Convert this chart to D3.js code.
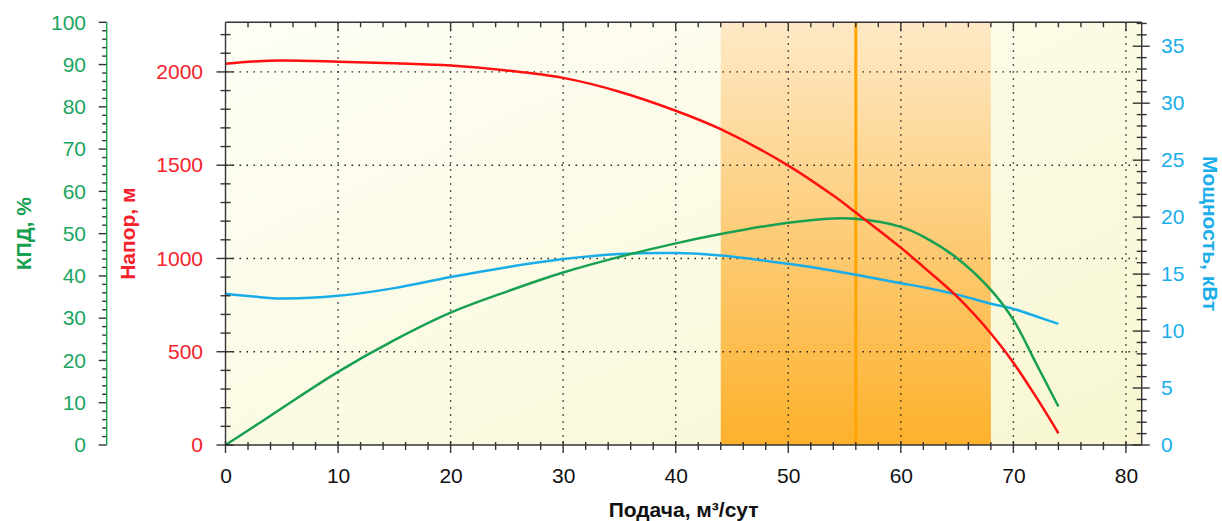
<!DOCTYPE html>
<html><head><meta charset="utf-8">
<script src="https://cdn.jsdelivr.net/npm/d3@7"></script>
<style>
html,body{margin:0;padding:0;background:#fff;}
svg{display:block;font-family:"Liberation Sans",Arial,sans-serif;}
</style></head>
<body>
<svg id="chart" width="1222" height="521"></svg>
<script>
// ---- data ----
const flow  = [0, 2.5, 5, 10, 15, 20, 25, 30, 35, 40, 44, 50, 54, 56, 60, 62, 65, 68, 70, 72, 74];
const head  = [2044, 2056, 2061, 2055, 2046, 2034, 2008, 1968, 1894, 1792, 1693, 1498, 1337, 1246, 1058, 955, 795, 598, 441, 259, 63];
const kpd   = [0, 4.3, 8.7, 17.3, 24.8, 31.3, 36.3, 40.8, 44.5, 47.7, 49.9, 52.6, 53.6, 53.5, 51.6, 49.3, 44.2, 36.7, 29.6, 19.4, 9.1];
const power = [13.27, 13.03, 12.86, 13.09, 13.77, 14.74, 15.61, 16.32, 16.76, 16.85, 16.64, 15.9, 15.3, 14.94, 14.2, 13.85, 13.2, 12.4, 11.95, 11.3, 10.63];
const workRange = [44, 68];
const nominal = 56;
const xTicks = [0, 10, 20, 30, 40, 50, 60, 70, 80];
const headTicks = [0, 500, 1000, 1500, 2000];
const kpdTicks = [0, 10, 20, 30, 40, 50, 60, 70, 80, 90, 100];
const powerTicks = [0, 5, 10, 15, 20, 25, 30, 35];
const xTitle = "Подача, м³/сут";
const headTitle = "Напор, м";
const kpdTitle = "КПД, %";
const powerTitle = "Мощность, кВт";

// ---- layout ----
const L = 225.5, R = 1141.7, T = 22.3, B = 445;
const C = {red:"#ff1010", green:"#17a050", blue:"#18ade8",
           redT:"#f5222d", greenT:"#1aa55f", blueT:"#1aaeea", axis:"#333"};
const FS = "21px";

const svg = d3.select("#chart");
const x = d3.scaleLinear().domain([0, 81.4]).range([L, R]);
const yH = d3.scaleLinear().domain([0, 2266]).range([B, T]);
const yK = d3.scaleLinear().domain([0, 100]).range([B, T]);
const yP = d3.scaleLinear().domain([0, 37.1]).range([B, T]);

const defs = svg.append("defs");
const bg = defs.append("linearGradient").attr("id","bg").attr("x1","0").attr("y1","0").attr("x2","1").attr("y2","1");
bg.append("stop").attr("offset","0").attr("stop-color","#fefef6");
bg.append("stop").attr("offset","1").attr("stop-color","#f8f7d2");
const band = defs.append("linearGradient").attr("id","band").attr("x1","0").attr("y1","0").attr("x2","0").attr("y2","1");
band.append("stop").attr("offset","0").attr("stop-color","#fee9c6");
band.append("stop").attr("offset","0.5").attr("stop-color","#fdcc78");
band.append("stop").attr("offset","1").attr("stop-color","#fdb12c");

svg.append("rect").attr("x",L).attr("y",T).attr("width",R-L).attr("height",B-T).attr("fill","url(#bg)");
svg.append("rect").attr("x",x(workRange[0])).attr("y",T).attr("width",x(workRange[1])-x(workRange[0])).attr("height",B-T).attr("fill","url(#band)");

// grid
const grid = svg.append("g").attr("stroke","#222").attr("stroke-width",1.4).attr("stroke-dasharray","1.5,5.5");
grid.selectAll(".vg").data(xTicks.filter(d=>d>0)).join("line")
  .attr("x1",d=>x(d)).attr("x2",d=>x(d)).attr("y1",T).attr("y2",B);
grid.selectAll(".hg").data(headTicks.filter(d=>d>0)).join("line")
  .attr("x1",L).attr("x2",R).attr("y1",d=>yH(d)).attr("y2",d=>yH(d));

// nominal line
svg.append("line").attr("x1",x(nominal)).attr("x2",x(nominal)).attr("y1",T).attr("y2",B)
  .attr("stroke","#ffa500").attr("stroke-width",3);

// curves
const pts = (arr)=>flow.map((f,i)=>[f,arr[i]]);
const mk = (ys)=>d3.line().x(d=>x(d[0])).y(d=>ys(d[1])).curve(d3.curveCatmullRom.alpha(0.5));
svg.append("path").attr("d",mk(yP)(pts(power))).attr("fill","none").attr("stroke",C.blue).attr("stroke-width",2.5);
svg.append("path").attr("d",mk(yK)(pts(kpd))).attr("fill","none").attr("stroke",C.green).attr("stroke-width",2.5);
svg.append("path").attr("d",mk(yH)(pts(head))).attr("fill","none").attr("stroke",C.red).attr("stroke-width",2.5);

// ---- axes ----
function tickLines(g, vals, fn){
  g.selectAll(null).data(vals).join("line").each(function(d){ const a=fn(d); d3.select(this).attr("x1",a[0]).attr("y1",a[1]).attr("x2",a[2]).attr("y2",a[3]); });
}
const tk = svg.append("g").attr("stroke",C.axis).attr("stroke-width",1.4);
tk.append("line").attr("x1",L).attr("x2",R).attr("y1",B).attr("y2",B);
tk.append("line").attr("x1",L).attr("x2",R).attr("y1",T).attr("y2",T);
tk.append("line").attr("x1",L).attr("x2",L).attr("y1",T).attr("y2",B);
tk.append("line").attr("x1",R).attr("x2",R).attr("y1",T).attr("y2",B);

const xMinor = d3.range(0, 81.4, 2).filter(d=>d%10!==0);
tickLines(tk, xTicks, d=>[x(d),B-4,x(d),B+8]);
tickLines(tk, xMinor, d=>[x(d),B-3,x(d),B+5]);
tickLines(tk, xTicks.filter(d=>d>0), d=>[x(d),T,x(d),T+9]);
tickLines(tk, xMinor, d=>[x(d),T,x(d),T+5]);

const hMinor = d3.range(100, 2266, 100).filter(d=>d%500!==0);
tickLines(tk, headTicks, d=>[L-9,yH(d),L+8,yH(d)]);
tickLines(tk, hMinor, d=>[L-5,yH(d),L+5,yH(d)]);

const pMinor = d3.range(1, 37.1, 1).filter(d=>d%5!==0);
tickLines(tk, powerTicks, d=>[R-9,yP(d),R+8,yP(d)]);
tickLines(tk, pMinor, d=>[R-5,yP(d),R+5,yP(d)]);

const KX = 106.7;
svg.append("line").attr("x1",KX).attr("x2",KX).attr("y1",T).attr("y2",B).attr("stroke",C.green).attr("stroke-width",1.4);
const kMinor = d3.range(2, 100, 2).filter(d=>d%10!==0);
tickLines(tk, kpdTicks, d=>[KX-8,yK(d),KX,yK(d)]);
tickLines(tk, kMinor, d=>[KX-4.5,yK(d),KX,yK(d)]);

function labelAxis(gen, tx, ty, color){
  const g = svg.append("g").attr("transform",`translate(${tx},${ty})`).call(gen);
  g.select(".domain").remove();
  g.selectAll(".tick line").remove();
  g.attr("font-family",null).attr("font-size",null);
  g.selectAll("text").attr("fill",color).style("font-size",FS).style("font-family","'Liberation Sans', Arial, sans-serif");
  return g;
}
const fmt = d3.format("d");
labelAxis(d3.axisBottom(x).tickValues(xTicks).tickFormat(fmt).tickSize(0).tickPadding(0), 0, 468, "#111")
  .selectAll("text").attr("dy","0.71em");
labelAxis(d3.axisLeft(yH).tickValues(headTicks).tickFormat(fmt).tickSize(0).tickPadding(0), 203, 0, C.redT);
labelAxis(d3.axisLeft(yK).tickValues(kpdTicks).tickFormat(fmt).tickSize(0).tickPadding(0), 86, 0, C.greenT);
labelAxis(d3.axisRight(yP).tickValues(powerTicks).tickFormat(fmt).tickSize(0).tickPadding(0), 1161, 0, C.blueT);

const midY = (T+B)/2;
const title = (txt, tx, ty, rot, color)=>svg.append("text").attr("transform",`translate(${tx},${ty}) rotate(${rot})`)
  .attr("text-anchor","middle").attr("dominant-baseline","central").attr("fill",color)
  .style("font-weight","bold").style("font-size",FS).text(txt);
title(kpdTitle, 23, midY, -90, C.green);
title(headTitle, 127, midY, -90, C.redT);
title(powerTitle, 1210, midY, 90, C.blueT);
svg.append("text").attr("x",(L+R)/2).attr("y",516.5).attr("text-anchor","middle").attr("fill","#111")
  .style("font-weight","bold").style("font-size",FS).text(xTitle);
</script>
</body></html>
